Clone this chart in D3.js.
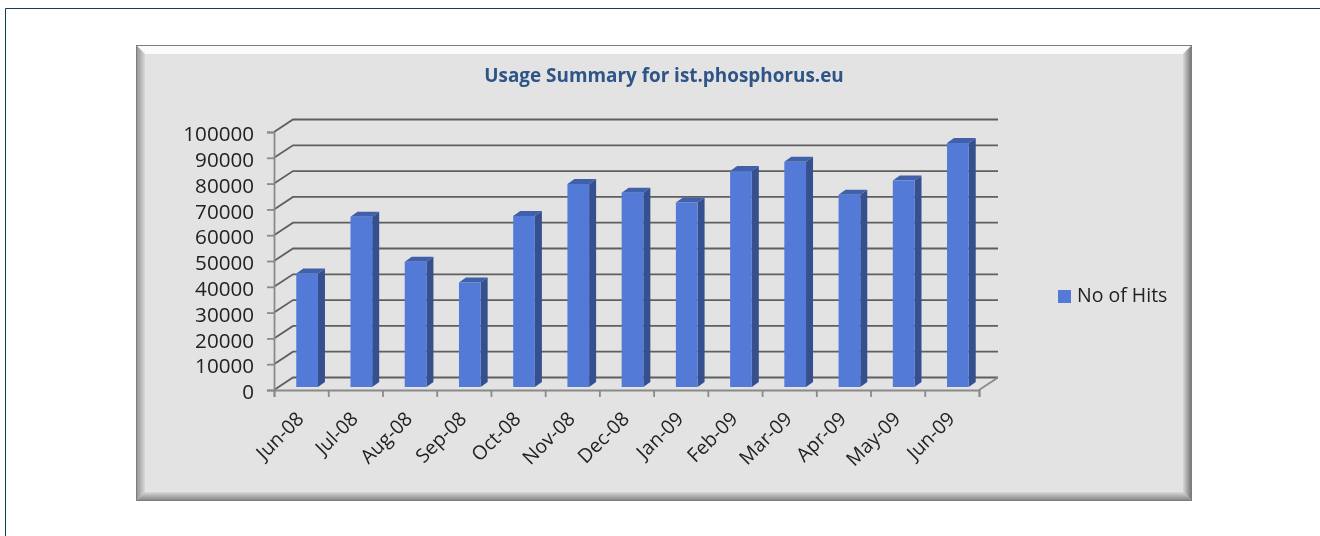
<!DOCTYPE html>
<html>
<head>
<meta charset="utf-8">
<script src="https://cdn.jsdelivr.net/npm/d3@7"></script>
<style>
html, body { margin: 0; padding: 0; background: #fff; overflow: hidden; }
svg { display: block; }
text { font-family: "Open Sans", sans-serif; }
</style>
</head>
<body>
<script>
var months = ["Jun-08", "Jul-08", "Aug-08", "Sep-08", "Oct-08", "Nov-08", "Dec-08", "Jan-09", "Feb-09", "Mar-09", "Apr-09", "May-09", "Jun-09"];
var hits = [44000, 66000, 48500, 40500, 66300, 78700, 75300, 71500, 83700, 87300, 74500, 80000, 94600];
var yTicks = [0, 10000, 20000, 30000, 40000, 50000, 60000, 70000, 80000, 90000, 100000];
var chartTitle = "Usage Summary for ist.phosphorus.eu";
var seriesName = "No of Hits";

var width = 1320, height = 536;
var panel = { left: 136, top: 45, right: 1192, bottom: 501, bevel: 9 };
var wall = { dx: 19, dy: -12.5 };   // offset of the back wall
var depth = { dx: 7, dy: -5 };      // how far a bar goes back
var x0 = 274, x1 = 979;

// bars stand a bit behind the front edge, so their band scale is shifted right
var x = d3.scaleBand().domain(months).range([x0 + 6, x1 + 6]).paddingInner(0.6).paddingOuter(0.3);
var y = d3.scaleLinear().domain([0, 100000]).range([390, 132]);

var svg = d3.select("body").append("svg")
    .attr("width", width)
    .attr("height", height);

var defs = svg.append("defs");
defs.append("filter").attr("id", "soft")
    .append("feGaussianBlur").attr("stdDeviation", 0.5);

function bevelGrad(id, x2, y2, stops) {
    var g = defs.append("linearGradient").attr("id", id)
        .attr("x1", 0).attr("y1", 0).attr("x2", x2).attr("y2", y2);
    stops.forEach(function(s, i) {
        g.append("stop").attr("offset", i / (stops.length - 1)).attr("stop-color", s);
    });
}
bevelGrad("bevLeft", 1, 0, ["#8f8f8f", "#d8d8d8"]);
bevelGrad("bevRight", 1, 0, ["#d8d8d8", "#6f6f6f"]);
bevelGrad("bevBottom", 0, 1, ["#d8d8d8", "#7f7f7f"]);

// page frame
svg.append("path")
    .attr("d", "M5.5,536V8.5H1320")
    .attr("fill", "none")
    .attr("stroke", "#0f3f55")
    .attr("stroke-width", 1);

// chart panel with bevel
var p = panel, b = panel.bevel;
var soft = svg.append("g").attr("filter", "url(#soft)");
soft.append("rect")
    .attr("x", p.left).attr("y", p.top)
    .attr("width", p.right - p.left).attr("height", p.bottom - p.top)
    .attr("fill", "#e3e3e3");
var bevels = [
    { fill: "#fbfbfb", pts: [[p.left, p.top], [p.right, p.top], [p.right - b, p.top + b], [p.left + b, p.top + b]] },
    { fill: "url(#bevLeft)", pts: [[p.left, p.top], [p.left + b, p.top + b], [p.left + b, p.bottom - b], [p.left, p.bottom]] },
    { fill: "url(#bevRight)", pts: [[p.right, p.top], [p.right, p.bottom], [p.right - b, p.bottom - b], [p.right - b, p.top + b]] },
    { fill: "url(#bevBottom)", pts: [[p.left, p.bottom], [p.left + b, p.bottom - b], [p.right - b, p.bottom - b], [p.right, p.bottom]] }
];
soft.selectAll("polygon.bevel").data(bevels).enter().append("polygon")
    .attr("class", "bevel")
    .attr("points", function(d) { return d.pts.join(" "); })
    .attr("fill", function(d) { return d.fill; });
soft.append("rect")
    .attr("x", p.left + 0.5).attr("y", p.top + 0.5)
    .attr("width", p.right - p.left - 1).attr("height", p.bottom - p.top - 1)
    .attr("fill", "none").attr("stroke", "#7d7d7d");

// title
soft.append("text")
    .attr("x", 664).attr("y", 82)
    .attr("text-anchor", "middle")
    .attr("font-weight", 700)
    .attr("font-size", 18.9)
    .attr("fill", "#2f5488")
    .text(chartTitle);

// gridlines on the back wall and the slanted side wall
var grid = soft.append("g");
grid.selectAll("path.grid").data(yTicks).enter().append("path")
    .attr("class", "grid")
    .attr("d", function(d) {
        return "M" + x0 + "," + y(d) + "L" + (x0 + wall.dx) + "," + (y(d) + wall.dy) + "H" + (x1 + wall.dx);
    })
    .attr("fill", "none")
    .attr("stroke", "#5f5f5f")
    .attr("stroke-width", 1.8);
// floor edge on the right and front
grid.append("path")
    .attr("d", "M" + x1 + "," + y(0) + "L" + (x1 + wall.dx) + "," + (y(0) + wall.dy))
    .attr("fill", "none")
    .attr("stroke", "#8a8a8a")
    .attr("stroke-width", 1.8);

// axes
var yAxis = d3.axisLeft(y).tickValues(yTicks).tickSize(7).tickPadding(13).tickFormat(d3.format("d"));
var gy = soft.append("g").attr("transform", "translate(" + x0 + ",0)").call(yAxis);

// x ticks fall on the band edges, so the bottom axis runs on a band-edge scale
var edge = d3.scalePoint().domain(d3.range(months.length + 1)).range([x0, x1]);
var xAxis = d3.axisBottom(edge).tickSize(7).tickFormat("");
var gx = soft.append("g").attr("transform", "translate(0," + y(0) + ")").call(xAxis);

[gy, gx].forEach(function(g) {
    g.selectAll(".domain").attr("stroke", "#8a8a8a").attr("stroke-width", 1.8);
    g.selectAll(".tick line").attr("stroke", "#8a8a8a").attr("stroke-width", 1.8);
});
gy.selectAll(".tick text")
    .attr("font-size", 20.6)
    .attr("dy", "0.42em")
    .attr("fill", "#222");

// rotated month labels
soft.selectAll("text.month").data(months).enter().append("text")
    .attr("class", "month")
    .attr("transform", function(d, i) {
        return "translate(" + (edge(i) + 31) + ",420) rotate(-45)";
    })
    .attr("text-anchor", "end")
    .attr("font-size", 19.5)
    .attr("fill", "#222")
    .text(function(d) { return d; });

// 3D bars, front face sits a little above the axis line
var lift = 3;
var bars = soft.selectAll("g.bar").data(hits).enter().append("g").attr("class", "bar");
var bw = x.bandwidth();

bars.append("polygon") // side
    .attr("points", function(d, i) {
        var l = x(months[i]) + bw, t = y(d) - lift, bot = y(0) - lift;
        return [[l, t], [l + depth.dx, t + depth.dy], [l + depth.dx, bot + depth.dy], [l, bot]].join(" ");
    })
    .attr("fill", "#34508f");
bars.append("polygon") // top
    .attr("points", function(d, i) {
        var l = x(months[i]), t = y(d) - lift;
        return [[l, t], [l + depth.dx, t + depth.dy], [l + bw + depth.dx, t + depth.dy], [l + bw, t]].join(" ");
    })
    .attr("fill", "#3f60aa");
bars.append("rect") // front
    .attr("x", function(d, i) { return x(months[i]); })
    .attr("y", function(d) { return y(d) - lift; })
    .attr("width", bw)
    .attr("height", function(d) { return y(0) - y(d); })
    .attr("fill", "#527ad6");

// legend
soft.append("rect")
    .attr("x", 1058).attr("y", 290)
    .attr("width", 13).attr("height", 13)
    .attr("fill", "#527ad6");
soft.append("text")
    .attr("x", 1077).attr("y", 302)
    .attr("font-size", 19.5)
    .attr("fill", "#222")
    .text(seriesName);
</script>
</body>
</html>
